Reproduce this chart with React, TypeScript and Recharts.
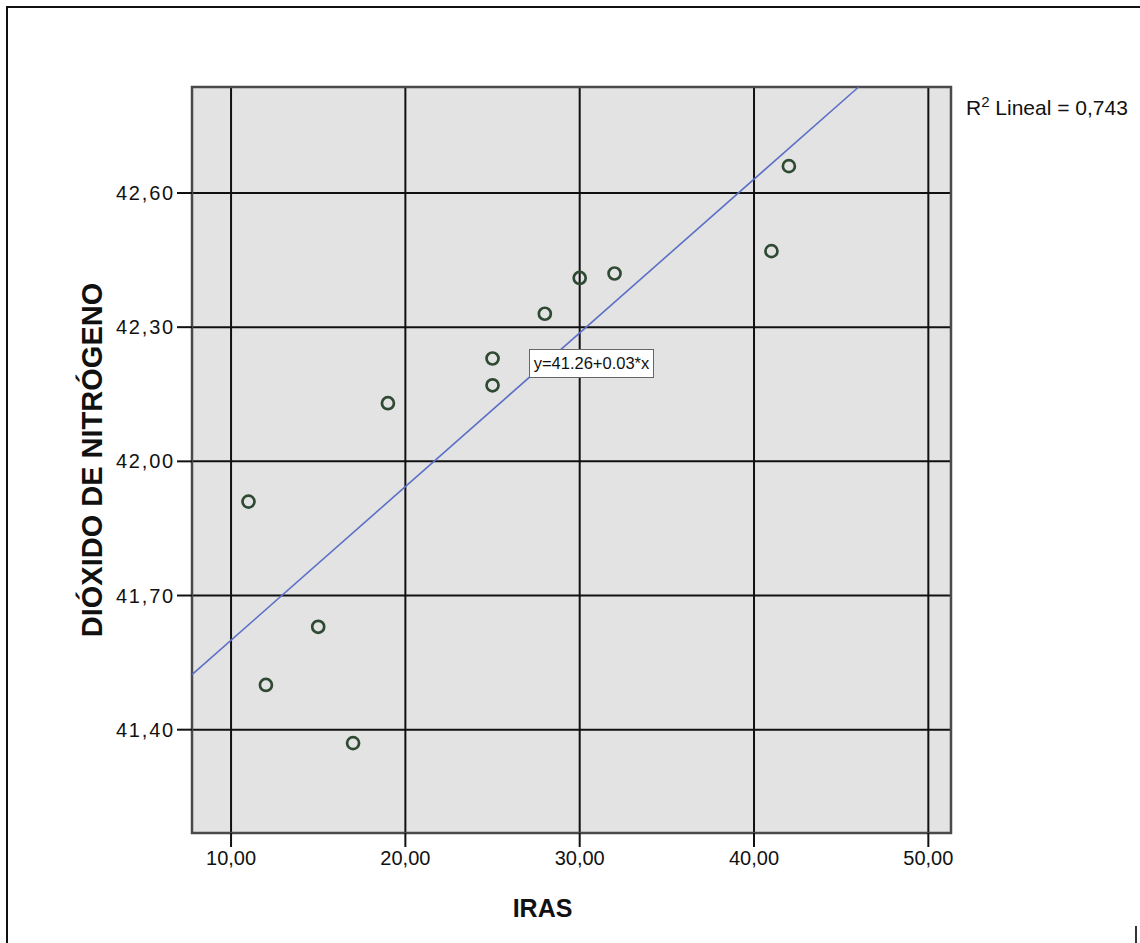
import {
  ScatterChart,
  Scatter,
  XAxis,
  YAxis,
  CartesianGrid,
  ReferenceLine,
  ReferenceArea,
} from 'recharts'

// IRAS vs dióxido de nitrógeno
const IRAS = [11, 12, 15, 17, 19, 25, 25, 28, 28, 30, 32, 41, 42]
const NO2 = [41.91, 41.5, 41.63, 41.37, 42.13, 42.23, 42.17, 42.33, 42.23, 42.41, 42.42, 42.47, 42.66]

const X_TICKS = [10, 20, 30, 40, 50]
const Y_TICKS = [41.4, 41.7, 42.0, 42.3, 42.6]
const X_DOMAIN = [7.76, 51.3]
const Y_DOMAIN = [41.169, 42.837]

// fitted line end points (lineal, R² = 0,743)
const FIT_X = [7.76, 46.0]
const FIT_Y = [41.523, 42.837]

const FONT = '"Liberation Sans", Arial, sans-serif'

const points = IRAS.map((x, i) => ({ x, y: NO2[i] }))
const fmt = (v: number) => v.toFixed(2).replace('.', ',')

function Ring(props: any) {
  const { cx, cy } = props
  return <circle cx={cx} cy={cy} r={6} fill="none" stroke="#2f4a33" strokeWidth={2.7} />
}

function YTitle(props: any) {
  const { viewBox } = props
  const cx = viewBox.x + 10
  const cy = viewBox.y + viewBox.height / 2
  return (
    <text
      x={cx}
      y={cy}
      transform={`rotate(-90 ${cx} ${cy})`}
      textAnchor="middle"
      dominantBaseline="central"
      fontFamily={FONT}
      fontWeight="bold"
      fontSize={29}
      fill="#111"
    >
      DIÓXIDO DE NITRÓGENO
    </text>
  )
}

function XTitle(props: any) {
  const { viewBox } = props
  return (
    <text
      x={viewBox.x + viewBox.width / 2 - 29}
      y={viewBox.y + 75}
      textAnchor="middle"
      dominantBaseline="central"
      fontFamily={FONT}
      fontWeight="bold"
      fontSize={25}
      fill="#111"
    >
      IRAS
    </text>
  )
}

export default function App() {
  return (
    <div style={{ position: 'absolute', left: 0, top: 0, width: 1140, height: 943, background: '#fff', overflow: 'hidden' }}>
      {/* outer frame */}
      <div style={{ position: 'absolute', left: 6, top: 6, right: 0, bottom: -4, borderTop: '2px solid #111', borderLeft: '2px solid #111' }} />
      <div style={{ position: 'absolute', left: 1135, top: 926, width: 2, height: 17, background: '#333' }} />

      <ScatterChart
        width={1140}
        height={943}
        margin={{ top: 87, right: 189, left: 82, bottom: 50 }}
        style={{ position: 'absolute', left: 0, top: 0 }}
      >
        <CartesianGrid stroke="#111" strokeWidth={2} fill="#e3e3e3" fillOpacity={1} />
        <XAxis
          type="number"
          dataKey="x"
          domain={X_DOMAIN}
          ticks={X_TICKS}
          allowDataOverflow
          height={60}
          axisLine={false}
          tickLine={{ stroke: '#111', strokeWidth: 2 }}
          tickSize={14}
          tickMargin={4}
          tickFormatter={fmt}
          tick={{ fontSize: 20, fontFamily: FONT, fill: '#111' }}
          label={<XTitle />}
        />
        <YAxis
          type="number"
          dataKey="y"
          domain={Y_DOMAIN}
          ticks={Y_TICKS}
          allowDataOverflow
          width={110}
          axisLine={false}
          tickLine={{ stroke: '#111', strokeWidth: 2 }}
          tickSize={15}
          tickMargin={2}
          tickFormatter={fmt}
          tick={{ fontSize: 20, fontFamily: FONT, fill: '#111', letterSpacing: 1.8 }}
          label={<YTitle />}
        />
        <ReferenceArea
          x1={X_DOMAIN[0]}
          x2={X_DOMAIN[1]}
          y1={Y_DOMAIN[0]}
          y2={Y_DOMAIN[1]}
          fill="none"
          stroke="#4a4a4a"
          strokeWidth={2.5}
          ifOverflow="visible"
        />
        <ReferenceLine
          segment={[
            { x: FIT_X[0], y: FIT_Y[0] },
            { x: FIT_X[1], y: FIT_Y[1] },
          ]}
          stroke="#5b70c6"
          strokeWidth={1.6}
          ifOverflow="visible"
        />
        <Scatter data={points} shape={<Ring />} isAnimationActive={false} />
      </ScatterChart>

      {/* fit annotations */}
      <div
        style={{
          position: 'absolute',
          left: 529,
          top: 349,
          width: 125,
          height: 29,
          boxSizing: 'border-box',
          border: '1.5px solid #666',
          background: '#fff',
          fontFamily: FONT,
          fontSize: 16.5,
          lineHeight: '27px',
          textAlign: 'center',
          color: '#111',
        }}
      >
        y=41.26+0.03*x
      </div>
      <div
        style={{
          position: 'absolute',
          left: 966,
          top: 93,
          fontFamily: FONT,
          fontSize: 21,
          color: '#111',
          whiteSpace: 'nowrap',
        }}
      >
        R<sup style={{ fontSize: 15 }}>2</sup> Lineal = 0,743
      </div>
    </div>
  )
}
